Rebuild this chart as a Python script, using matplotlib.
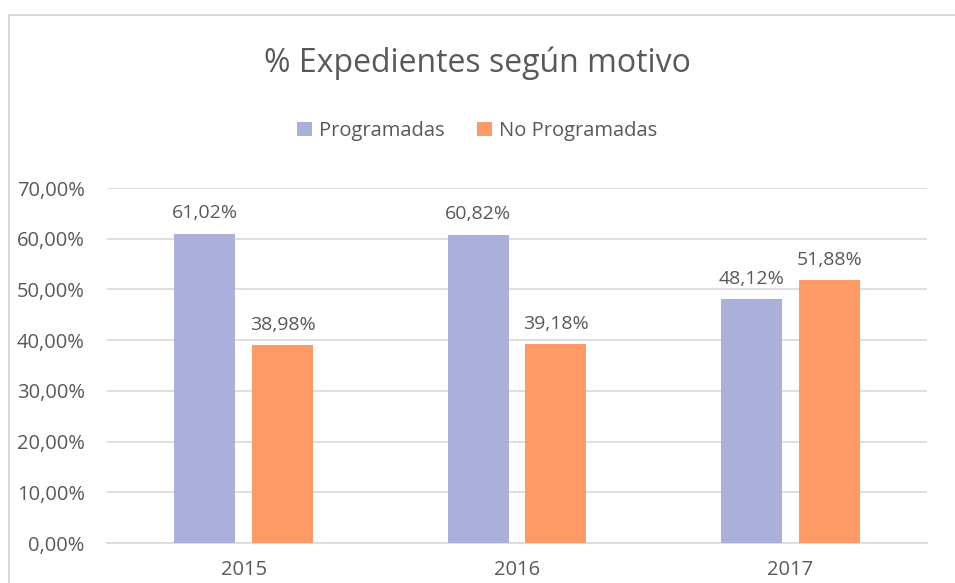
import matplotlib.pyplot as plt
import numpy as np
from matplotlib.patches import Rectangle

plt.rcParams['font.family'] = ['Open Sans', 'DejaVu Sans']

years = ['2015', '2016', '2017']
programadas = [61.02, 60.82, 48.12]
no_programadas = [38.98, 39.18, 51.88]
labels_prog = ['61,02%', '60,82%', '48,12%']
labels_noprog = ['38,98%', '39,18%', '51,88%']
yticks = [0, 10, 20, 30, 40, 50, 60, 70]

txt = '#595959'
blue = '#AAB0DA'
orange = '#FF9966'

fig = plt.figure(figsize=(9.55, 5.83), dpi=100)
# outer chart border (runs off the right and bottom edges)
fig.patches.append(Rectangle((8.5 / 955, -0.05), 1.1, 1 - 15.5 / 583 + 0.05,
                             transform=fig.transFigure, fill=False,
                             edgecolor='#D9D9D9', linewidth=1.5))

ax = fig.add_axes([107 / 955, (583 - 543) / 583, (927 - 107) / 955, (543 - 188) / 583])

x = np.arange(len(years))
w = 0.223
off = 0.142
b1 = ax.bar(x - off, programadas, w, color=blue, label='Programadas', zorder=3)
b2 = ax.bar(x + off, no_programadas, w, color=orange, label='No Programadas', zorder=3)

for bars, labs in ((b1, labels_prog), (b2, labels_noprog)):
    for r, lab in zip(bars, labs):
        ax.annotate(lab, (r.get_x() + r.get_width() / 2, r.get_height()),
                    xytext=(0, 8), textcoords='offset points',
                    ha='center', va='bottom', fontsize=14, color=txt)

ax.set_xlim(-0.5, 2.5)
ax.set_ylim(0, 70)
ax.set_yticks(yticks)
ax.set_yticklabels([f'{v},00%' for v in yticks])
ax.set_xticks(x)
ax.set_xticklabels(years)
ax.tick_params(axis='both', length=0, labelsize=14.5, labelcolor=txt)
ax.tick_params(axis='x', pad=12)
ax.tick_params(axis='y', pad=16)
ax.grid(axis='y', color='#D9D9D9', linewidth=1.2, zorder=0)
for s in ['top', 'right', 'left']:
    ax.spines[s].set_visible(False)
ax.spines['bottom'].set_color('#D9D9D9')
ax.spines['bottom'].set_linewidth(1.2)

fig.text(0.5, 1 - 63 / 583, '% Expedientes según motivo', ha='center', va='center',
         fontsize=23, color=txt)
fig.legend(loc='center', bbox_to_anchor=(0.5, 1 - 131 / 583), ncol=2, frameon=False,
           fontsize=14.5, labelcolor=txt, handlelength=0.75, handleheight=0.75,
           handletextpad=0.35, columnspacing=1.6)

fig.savefig('out.png', dpi=100)
